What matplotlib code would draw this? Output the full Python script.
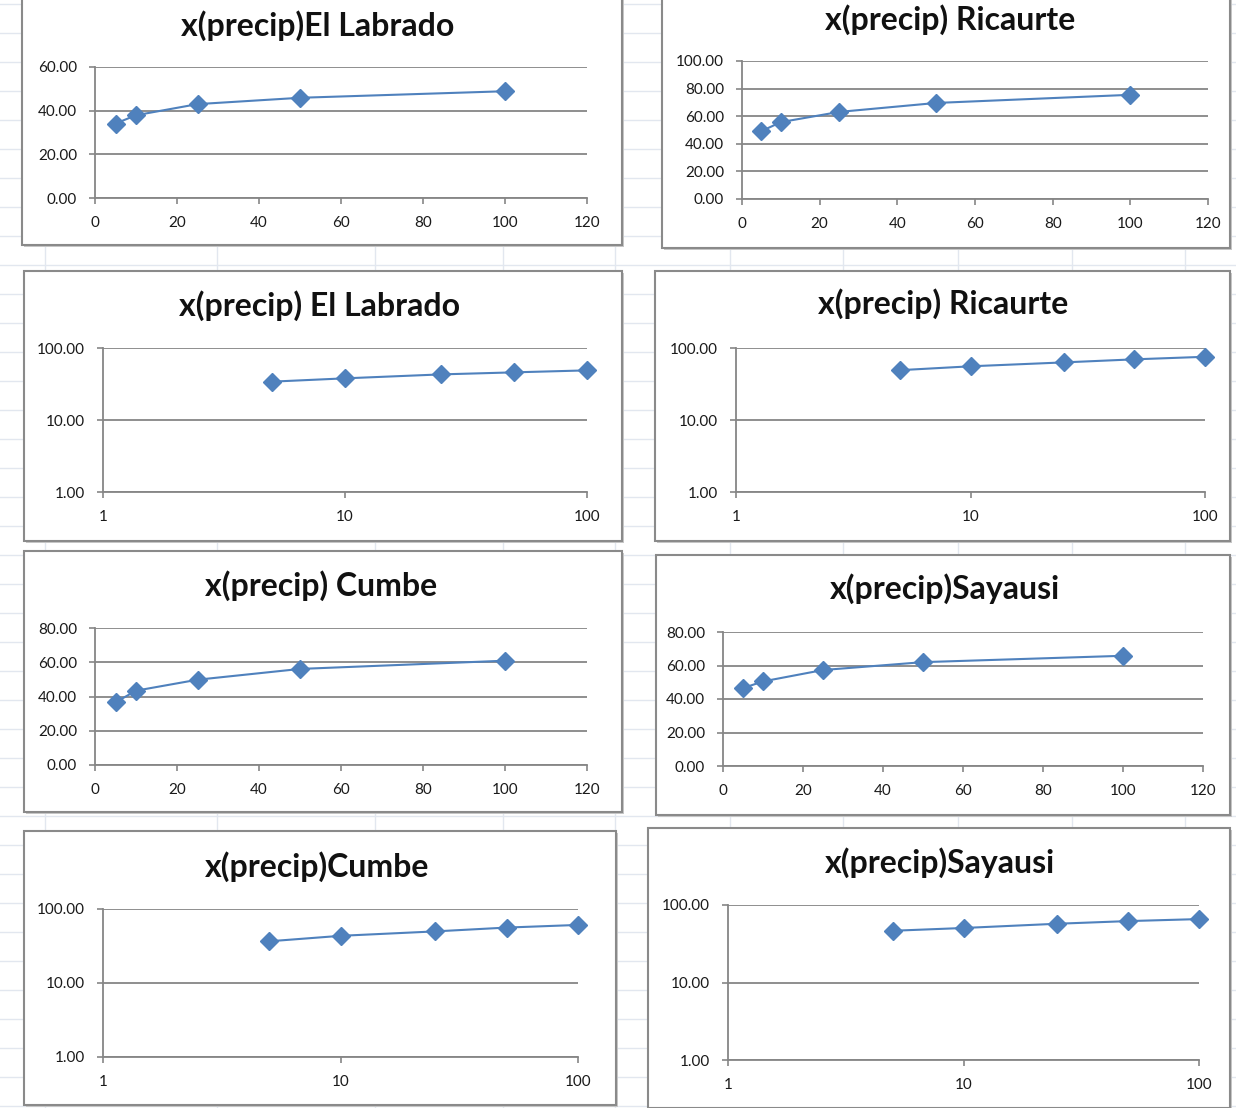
import matplotlib
matplotlib.use("Agg")
import matplotlib.pyplot as plt
from matplotlib.patches import Rectangle
from matplotlib.ticker import FixedLocator, NullLocator

W, H = 1236, 1108

# return periods (years) and precipitation values per station
periods = [5, 10, 25, 50, 100]
el_labrado = [34.1, 37.9, 43.0, 45.9, 48.9]
ricaurte = [49.2, 55.7, 63.1, 69.6, 75.5]
cumbe = [36.6, 43.4, 49.8, 56.1, 60.9]
sayausi = [46.5, 50.5, 57.3, 62.0, 65.8]

titles = ["x(precip)El Labrado", "x(precip) Ricaurte",
          "x(precip) El Labrado", "x(precip) Ricaurte",
          "x(precip) Cumbe", "x(precip)Sayausi",
          "x(precip)Cumbe", "x(precip)Sayausi"]
series = [el_labrado, ricaurte, el_labrado, ricaurte,
          cumbe, sayausi, cumbe, sayausi]
ymax_lin = [60, 100, None, None, 80, 80, None, None]

# layout in screenshot pixels: box (x0, y0, x1, y1), plot area, title centre
boxes = [(22, -3, 622, 245), (662, -3, 1230, 248),
         (24, 271, 622, 541), (655, 271, 1230, 541),
         (24, 551, 622, 812), (656, 555, 1230, 815),
         (24, 831, 616, 1105), (648, 828, 1230, 1108)]
plots = [(95, 67, 587, 198), (742, 61, 1208, 199),
         (103, 348, 587, 492), (736, 348, 1205, 492),
         (95, 628, 587, 765), (723, 632, 1203, 766),
         (103, 909, 578, 1057), (728, 905, 1199, 1060)]
title_pos = [(318, 26), (950, 20), (320, 306), (943, 304),
             (321, 586), (945, 589), (317, 867), (940, 863)]

BLUE = "#4F81BD"
GRID = "#868686"
FONT = ["Lato", "DejaVu Sans"]

fig = plt.figure(figsize=(W / 100, H / 100), dpi=100)
fig.patch.set_facecolor("white")

# spreadsheet background
bg = fig.add_axes([0, 0, 1, 1])
bg.set_xlim(0, W)
bg.set_ylim(H, 0)
bg.axis("off")
for y in range(4, H, 29):
    bg.axhline(y, color="#e2e7ef", lw=1, zorder=0)
for x in [45, 217, 375, 503, 615, 730, 843, 958, 1072, 1185]:
    bg.axvline(x, color="#e2e7ef", lw=1, zorder=0)

for (x0, y0, x1, y1) in boxes:
    bg.add_patch(Rectangle((x0 + 2, y0 + 2), x1 - x0, y1 - y0,
                           facecolor="#c8c8c8", edgecolor="none", zorder=1))
    bg.add_patch(Rectangle((x0, y0), x1 - x0, y1 - y0, facecolor="white",
                           edgecolor="#8a8a8a", lw=1.5, zorder=2))


def px_rect(r):
    x0, y0, x1, y1 = r
    return [x0 / W, 1 - y1 / H, (x1 - x0) / W, (y1 - y0) / H]


for i in range(8):
    ax = fig.add_axes(px_rect(plots[i]))
    ax.patch.set_alpha(0)
    vals = series[i]
    ax.plot(periods, vals, color=BLUE, lw=1.5, marker="D", ms=9,
            mec=BLUE, mfc=BLUE, clip_on=False, zorder=3)
    if ymax_lin[i] is None:
        ax.set_xscale("log")
        ax.set_yscale("log")
        ax.set_xlim(1, 100)
        ax.set_ylim(1, 100)
        ax.xaxis.set_major_locator(FixedLocator([1, 10, 100]))
        ax.yaxis.set_major_locator(FixedLocator([1, 10, 100]))
        ax.xaxis.set_minor_locator(NullLocator())
        ax.yaxis.set_minor_locator(NullLocator())
        ax.set_xticklabels(["1", "10", "100"])
        ax.set_yticklabels(["1.00", "10.00", "100.00"])
    else:
        ax.set_xlim(0, 120)
        ax.set_ylim(0, ymax_lin[i])
        ax.set_xticks(range(0, 121, 20))
        yt = list(range(0, ymax_lin[i] + 1, 20))
        ax.set_yticks(yt)
        ax.set_yticklabels([f"{v:.2f}" for v in yt])
    ax.grid(axis="y", color=GRID, lw=1.3)
    ax.set_axisbelow(True)
    for s in ["top", "right"]:
        ax.spines[s].set_visible(False)
    for s in ["left", "bottom"]:
        ax.spines[s].set_color(GRID)
        ax.spines[s].set_linewidth(1.3)
    ax.tick_params(colors=GRID, length=4, width=1.2, labelcolor="#1a1a1a",
                   labelsize=11, pad=9)
    for lab in ax.get_xticklabels() + ax.get_yticklabels():
        lab.set_family(FONT)
    tx, ty = title_pos[i]
    fig.text(tx / W, 1 - ty / H, titles[i], ha="center", va="center",
             fontsize=23, fontweight="bold", family=FONT, color="#111111")

fig.savefig("out.png", dpi=100)
